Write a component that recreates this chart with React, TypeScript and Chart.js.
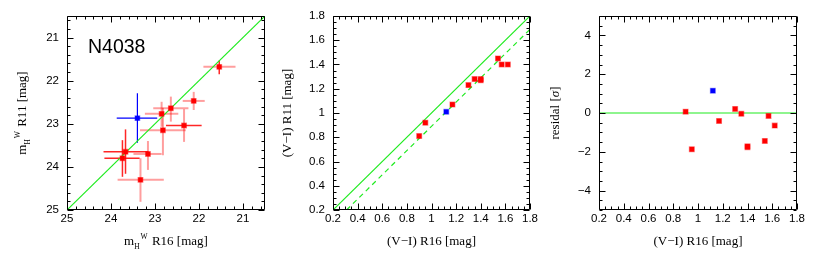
import React, { useEffect, useRef } from "react";
import { Chart, registerables } from "chart.js";

Chart.register(...registerables);

// ---------------- Panel 1: m_H^W R16 vs R11 ----------------
const mR16 = [21.54, 22.12, 22.64, 22.85, 22.34, 22.82, 23.16, 23.67, 23.74, 23.33];
const mR11 = [21.68, 22.47, 22.64, 22.77, 23.04, 23.15, 23.70, 23.65, 23.80, 24.30];
const mR16Low = [21.17, 21.87, 22.24, 22.47, 21.94, 22.30, 22.85, 23.15, 23.35, 22.80];
const mR16High = [21.90, 22.37, 23.04, 23.23, 22.75, 23.34, 23.49, 24.17, 24.15, 23.85];
const mR11Low = [21.53, 22.26, 22.37, 22.49, 22.66, 22.63, 23.40, 23.13, 23.38, 23.80];
const mR11High = [21.85, 22.68, 22.95, 23.07, 23.42, 23.73, 24.07, 24.16, 24.23, 24.81];
const mR16Blue = [23.40];
const mR11Blue = [22.87];
const mR16BlueLow = [22.95];
const mR16BlueHigh = [23.87];
const mR11BlueLow = [22.29];
const mR11BlueHigh = [23.44];
// which error bars are drawn in the stronger red (style only)
const xErrStrong = [0, 0, 0, 0, 1, 0, 0, 1, 1, 0];
const yErrStrong = [1, 0, 0, 0, 0, 0, 0, 1, 1, 0];
const magTicks = [21, 22, 23, 24, 25];
const galaxyLabel = "N4038";

// ---------------- Panel 2: (V-I) R16 vs R11 ----------------
const viR16 = [0.90, 0.95, 1.17, 1.30, 1.35, 1.40, 1.40, 1.54, 1.57, 1.62];
const viR11 = [0.81, 0.92, 1.07, 1.23, 1.28, 1.28, 1.27, 1.45, 1.40, 1.40];
const viR16Blue = [1.12];
const viR11Blue = [1.01];
const colorOffset = 0.11;
const colorTicks = [0.2, 0.4, 0.6, 0.8, 1.0, 1.2, 1.4, 1.6, 1.8];

// ---------------- Panel 3: residuals ----------------
const residRed = [0.07, -1.87, -0.41, 0.21, -0.04, -1.72, -1.76, -1.44, -0.15, -0.65];
const residBlue = [1.15];
const residTicks = [-4, -2, 0, 2, 4];

const RED = "#ff0000";
const RED_BORDER = "rgba(255,0,0,0.45)";
const BLUE = "#0000ff";
const GREEN = "rgb(30,235,30)";
const TICK_FONT = { family: "'Liberation Sans', Arial, sans-serif", size: 11.5 };
const SERIF = "'Liberation Serif', 'Times New Roman', serif";

type Seg = { t: string; size: number; dy?: number; dx?: number; italic?: boolean };

function drawRich(ctx: CanvasRenderingContext2D, segs: Seg[], cx: number, cy: number, rotate: boolean) {
  ctx.save();
  ctx.translate(cx, cy);
  if (rotate) ctx.rotate(-Math.PI / 2);
  ctx.fillStyle = "#000";
  ctx.textBaseline = "alphabetic";
  ctx.textAlign = "left";
  let total = 0;
  const widths: number[] = [];
  for (const s of segs) {
    ctx.font = `${s.italic ? "italic " : ""}${s.size}px ${SERIF}`;
    const w = ctx.measureText(s.t).width;
    widths.push(w);
    total += w + (s.dx || 0);
  }
  let x = -total / 2;
  segs.forEach((s, i) => {
    ctx.font = `${s.italic ? "italic " : ""}${s.size}px ${SERIF}`;
    x += s.dx || 0;
    ctx.fillText(s.t, x, s.dy || 0);
    x += widths[i];
  });
  ctx.restore();
}

type ErrBar = { x: number; y: number; xLo: number; xHi: number; yLo: number; yHi: number; hColor: string; vColor: string; hw: number; vw: number };

type Spec = {
  left: number;
  w: number;
  yAxisW: number;
  padRight: number;
  xMin: number; xMax: number; xRev: boolean; xTicks: number[]; xMajor: number; xMinor: number;
  yMin: number; yMax: number; yRev: boolean; yTicks: number[]; yMajor: number; yMinor: number;
  xFmt: (v: number) => string;
  yFmt: (v: number) => string;
  datasets: any[];
  errors: ErrBar[];
  xTitle: Seg[];
  yTitle: Seg[];
  yTitleX: number;
  label?: string;
};

function tickValues(min: number, max: number, step: number): number[] {
  const out: number[] = [];
  const k0 = Math.ceil(min / step - 1e-9);
  const k1 = Math.floor(max / step + 1e-9);
  for (let k = k0; k <= k1; k++) out.push(k * step);
  return out;
}

function makePlugin(spec: Spec) {
  return {
    id: "frameTicks",
    beforeDatasetsDraw(chart: any) {
      const { ctx, scales } = chart;
      const xs = scales.x;
      const ys = scales.y;
      ctx.save();
      ctx.beginPath();
      ctx.rect(chart.chartArea.left, chart.chartArea.top, chart.chartArea.right - chart.chartArea.left, chart.chartArea.bottom - chart.chartArea.top);
      ctx.clip();
      for (const e of spec.errors) {
        const px = xs.getPixelForValue(e.x);
        const py = ys.getPixelForValue(e.y);
        ctx.strokeStyle = e.hColor;
        ctx.lineWidth = e.hw;
        ctx.beginPath();
        ctx.moveTo(xs.getPixelForValue(e.xLo), py);
        ctx.lineTo(xs.getPixelForValue(e.xHi), py);
        ctx.stroke();
        ctx.strokeStyle = e.vColor;
        ctx.lineWidth = e.vw;
        ctx.beginPath();
        ctx.moveTo(px, ys.getPixelForValue(e.yLo));
        ctx.lineTo(px, ys.getPixelForValue(e.yHi));
        ctx.stroke();
      }
      ctx.restore();
    },
    afterDatasetsDraw(chart: any) {
      const { ctx, chartArea: a, scales } = chart;
      const xs = scales.x;
      const ys = scales.y;
      const L = Math.round(a.left) + 0.5;
      const R = Math.round(a.right) - 0.5;
      const T = Math.round(a.top) + 0.5;
      const B = Math.round(a.bottom) - 0.5;
      ctx.save();
      ctx.strokeStyle = "#000";
      ctx.lineWidth = 1;
      ctx.beginPath();
      ctx.rect(L, T, R - L, B - T);
      ctx.stroke();
      ctx.beginPath();
      for (const v of tickValues(spec.xMin, spec.xMax, spec.xMinor)) {
        const r = v / spec.xMajor;
        const len = Math.abs(r - Math.round(r)) < 1e-6 ? 6 : 3;
        const px = Math.round(xs.getPixelForValue(v)) + 0.5;
        ctx.moveTo(px, B);
        ctx.lineTo(px, B - len);
        ctx.moveTo(px, T);
        ctx.lineTo(px, T + len);
      }
      for (const v of tickValues(spec.yMin, spec.yMax, spec.yMinor)) {
        const r = v / spec.yMajor;
        const len = Math.abs(r - Math.round(r)) < 1e-6 ? 6 : 3;
        const py = Math.round(ys.getPixelForValue(v)) + 0.5;
        ctx.moveTo(L, py);
        ctx.lineTo(L + len, py);
        ctx.moveTo(R, py);
        ctx.lineTo(R - len, py);
      }
      ctx.stroke();
      ctx.restore();

      const cx = (a.left + a.right) / 2;
      const cy = (a.top + a.bottom) / 2;
      drawRich(ctx, spec.xTitle, cx, 245, false);
      drawRich(ctx, spec.yTitle, spec.yTitleX, cy, true);

      if (spec.label) {
        ctx.save();
        ctx.fillStyle = "#000";
        ctx.font = `19.5px 'Liberation Sans', Arial, sans-serif`;
        ctx.textBaseline = "alphabetic";
        ctx.textAlign = "left";
        ctx.fillText(spec.label, a.left + 21, a.top + 37);
        ctx.restore();
      }
    },
  };
}

function buildConfig(spec: Spec): any {
  return {
    type: "scatter",
    data: { datasets: spec.datasets },
    options: {
      animation: false,
      responsive: false,
      devicePixelRatio: 1,
      events: [],
      layout: { padding: { left: 0, right: spec.padRight, top: 16, bottom: 0 } },
      plugins: { legend: { display: false }, tooltip: { enabled: false } },
      scales: {
        x: {
          type: "linear",
          min: spec.xMin,
          max: spec.xMax,
          reverse: spec.xRev,
          grid: { display: false, drawTicks: false },
          border: { display: false },
          ticks: {
            padding: 2,
            font: TICK_FONT,
            color: "#000",
            autoSkip: false,
            maxRotation: 0,
            callback: (v: any) => spec.xFmt(Number(v)),
          },
          afterBuildTicks: (s: any) => {
            s.ticks = spec.xTicks.map((v) => ({ value: v }));
          },
          afterFit: (s: any) => {
            s.height = 52;
            s.paddingLeft = 0;
            s.paddingRight = 0;
          },
        },
        y: {
          type: "linear",
          min: spec.yMin,
          max: spec.yMax,
          reverse: spec.yRev,
          grid: { display: false, drawTicks: false },
          border: { display: false },
          ticks: {
            padding: 8,
            font: TICK_FONT,
            color: "#000",
            autoSkip: false,
            callback: (v: any) => spec.yFmt(Number(v)),
          },
          afterBuildTicks: (s: any) => {
            s.ticks = spec.yTicks.map((v) => ({ value: v }));
          },
          afterFit: (s: any) => {
            s.width = spec.yAxisW;
            s.paddingTop = 0;
            s.paddingBottom = 0;
          },
        },
      },
    },
    plugins: [makePlugin(spec)],
  };
}

const pointDs = (xs: number[], ys: number[], color: string, border: string, r: number) => ({
  data: xs.map((x, i) => ({ x, y: ys[i] })),
  pointStyle: "rect",
  pointRadius: r,
  backgroundColor: color,
  borderColor: border,
  borderWidth: 1.2,
  showLine: false,
});

const lineDs = (pts: { x: number; y: number }[], dash: number[]) => ({
  data: pts,
  showLine: true,
  pointRadius: 0,
  borderColor: GREEN,
  borderWidth: 1.2,
  borderDash: dash,
  fill: false,
});

const magMin = 20.5;
const magMax = 25;

const errs1: ErrBar[] = [
  ...mR16.map((x, i) => ({
    x,
    y: mR11[i],
    xLo: mR16Low[i],
    xHi: mR16High[i],
    yLo: mR11Low[i],
    yHi: mR11High[i],
    hColor: xErrStrong[i] ? "rgba(255,0,0,0.85)" : "rgba(255,0,0,0.38)",
    vColor: yErrStrong[i] ? "rgba(255,0,0,0.85)" : "rgba(255,0,0,0.38)",
    hw: xErrStrong[i] ? 1.5 : 2,
    vw: yErrStrong[i] ? 1.5 : 2,
  })),
  ...mR16Blue.map((x, i) => ({
    x,
    y: mR11Blue[i],
    xLo: mR16BlueLow[i],
    xHi: mR16BlueHigh[i],
    yLo: mR11BlueLow[i],
    yHi: mR11BlueHigh[i],
    hColor: BLUE,
    vColor: BLUE,
    hw: 1.2,
    vw: 1.2,
  })),
];

const fmtColor = (v: number) => (Math.abs(v - 1) < 1e-9 ? "1" : v.toFixed(1));
const fmtResid = (v: number) => (v < 0 ? "\u2212" + Math.abs(v) : String(v));

const specs: Spec[] = [
  {
    left: 0,
    w: 272,
    yAxisW: 67,
    padRight: 7,
    xMin: magMin, xMax: magMax, xRev: true, xTicks: magTicks, xMajor: 1, xMinor: 0.2,
    yMin: magMin, yMax: magMax, yRev: true, yTicks: magTicks, yMajor: 1, yMinor: 0.2,
    xFmt: (v) => String(v),
    yFmt: (v) => String(v),
    datasets: [
      pointDs(mR16Blue, mR11Blue, BLUE, "rgba(0,0,255,0.4)", 3.3),
      pointDs(mR16, mR11, RED, RED_BORDER, 3.3),
      lineDs([{ x: magMax, y: magMax }, { x: magMin, y: magMin }], []),
    ],
    errors: errs1,
    xTitle: [
      { t: "m", size: 13 },
      { t: "H", size: 7.5, dy: 4 },
      { t: "W", size: 7.5, dy: -6, dx: 1 },
      { t: " R16 [mag]", size: 13, dx: 1 },
    ],
    yTitle: [
      { t: "m", size: 13 },
      { t: "H", size: 7.5, dy: 4 },
      { t: "W", size: 7.5, dy: -6, dx: 1 },
      { t: " R11 [mag]", size: 13, dx: 1 },
    ],
    yTitleX: 26,
    label: galaxyLabel,
  },
  {
    left: 272,
    w: 272,
    yAxisW: 61,
    padRight: 14,
    xMin: 0.2, xMax: 1.8, xRev: false, xTicks: colorTicks, xMajor: 0.2, xMinor: 0.05,
    yMin: 0.2, yMax: 1.8, yRev: false, yTicks: colorTicks, yMajor: 0.2, yMinor: 0.05,
    xFmt: fmtColor,
    yFmt: fmtColor,
    datasets: [
      pointDs(viR16Blue, viR11Blue, BLUE, "rgba(0,0,255,0.4)", 3.4),
      pointDs(viR16, viR11, RED, RED_BORDER, 3.4),
      lineDs([{ x: 0.2, y: 0.2 }, { x: 1.8, y: 1.8 }], []),
      lineDs([{ x: 0.2 + colorOffset, y: 0.2 }, { x: 1.8, y: 1.8 - colorOffset }], [5, 4]),
    ],
    errors: [],
    xTitle: [{ t: "(V\u2212I) R16 [mag]", size: 13 }],
    yTitle: [{ t: "(V\u2212I) R11 [mag]", size: 13 }],
    yTitleX: 19,
  },
  {
    left: 544,
    w: 273,
    yAxisW: 55,
    padRight: 20,
    xMin: 0.2, xMax: 1.8, xRev: false, xTicks: colorTicks, xMajor: 0.2, xMinor: 0.05,
    yMin: -5, yMax: 5, yRev: false, yTicks: residTicks, yMajor: 2, yMinor: 0.5,
    xFmt: fmtColor,
    yFmt: fmtResid,
    datasets: [
      pointDs(viR16Blue, residBlue, BLUE, "rgba(0,0,255,0.4)", 3.4),
      pointDs(viR16, residRed, RED, RED_BORDER, 3.4),
      lineDs([{ x: 0.2, y: 0 }, { x: 1.8, y: 0 }], []),
    ],
    errors: [],
    xTitle: [{ t: "(V\u2212I) R16 [mag]", size: 13 }],
    yTitle: [
      { t: "residal [", size: 13 },
      { t: "\u03c3", size: 13, italic: true },
      { t: "]", size: 13 },
    ],
    yTitleX: 15,
  },
];

function Panel({ spec }: { spec: Spec }) {
  const ref = useRef<HTMLCanvasElement>(null);
  useEffect(() => {
    if (!ref.current) return;
    const chart = new Chart(ref.current, buildConfig(spec));
    return () => chart.destroy();
  }, [spec]);
  return (
    <canvas
      ref={ref}
      width={spec.w}
      height={262}
      style={{ position: "absolute", left: spec.left, top: 0, width: spec.w, height: 262 }}
    />
  );
}

export default function App() {
  return (
    <div style={{ position: "absolute", left: 0, top: 0, width: 817, height: 262, background: "#fff", overflow: "hidden" }}>
      {specs.map((s, i) => (
        <Panel key={i} spec={s} />
      ))}
    </div>
  );
}
